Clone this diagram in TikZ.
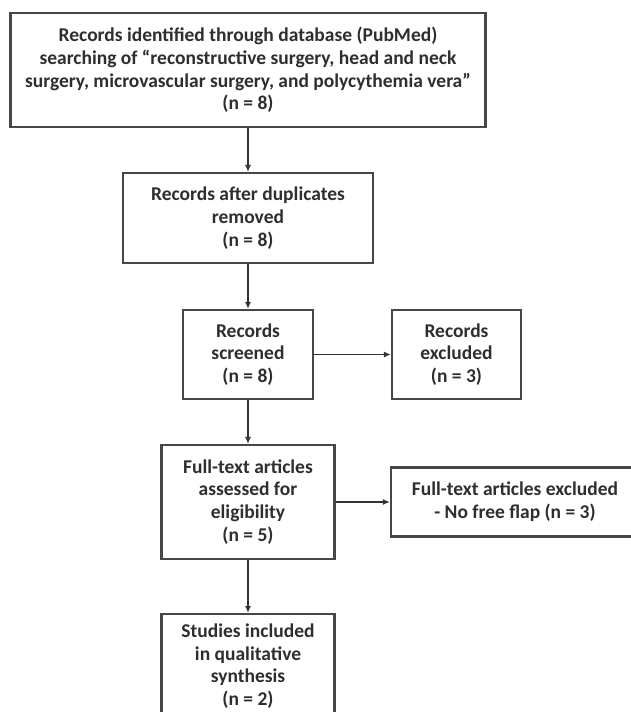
\documentclass[tikz,border=0pt]{standalone}
\usepackage{fontspec}
\setmainfont{Carlito}
\usetikzlibrary{arrows.meta}

\begin{document}
\begin{tikzpicture}[x=1pt,y=-1pt,
  every node/.style={font=\bfseries\fontsize{19.5}{22.8}\selectfont,text=black!82,align=center,inner sep=0pt},
  box/.style={draw=black!72,line width=2.2pt,fill=white},
  link/.style={draw=black!80,line width=1.8pt,-{Latex[length=7pt,width=6pt]}}]
\useasboundingbox[fill=white] (0,0) rectangle (630,712);
% boxes
\node[box,minimum width=475pt,minimum height=114pt] (ident) at (248,70)
  {Records identified through database (PubMed)\\
   searching of “reconstructive surgery, head and neck\\
   surgery, microvascular surgery, and polycythemia vera”\\
   (n = 8)};
\node[box,minimum width=250pt,minimum height=90pt] (dupl) at (248,218)
  {Records after duplicates\\ removed\\ (n = 8)};
\node[box,minimum width=130pt,minimum height=89pt] (screen) at (248,354.5)
  {Records\\ screened\\ (n = 8)};
\node[box,minimum width=129pt,minimum height=89pt] (excl) at (456.5,354.5)
  {Records\\ excluded\\ (n = 3)};
\node[box,minimum width=173pt,minimum height=114pt] (elig) at (248,502)
  {Full-text articles\\ assessed for\\ eligibility\\ (n = 5)};
\node[box,minimum width=248pt,minimum height=69pt] (ftexcl) at (515,502)
  {Full-text articles excluded\\ - No free flap (n = 3)};
\node[box,minimum width=173pt,minimum height=104pt,anchor=north] (incl) at (248,613)
  {Studies included\\ in qualitative\\ synthesis\\ (n = 2)};
% arrows
\draw[link] (ident) -- (dupl);
\draw[link] (dupl) -- (screen);
\draw[link] (screen) -- (excl);
\draw[link] (screen) -- (elig);
\draw[link] (elig) -- (ftexcl);
\draw[link] (elig) -- (incl);
\end{tikzpicture}
\end{document}
